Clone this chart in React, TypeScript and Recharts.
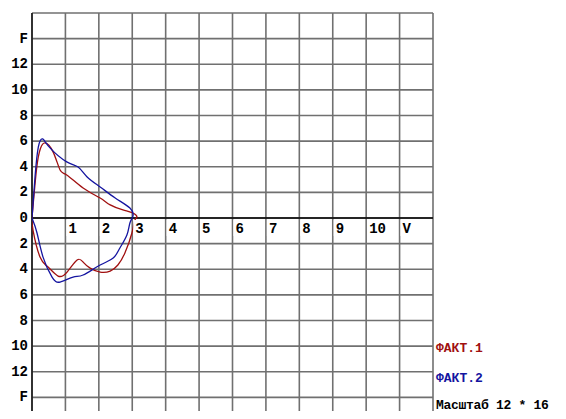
import React from 'react';
import { LineChart, Line, XAxis, YAxis, CartesianGrid, ReferenceLine, ReferenceDot } from 'recharts';

// ФАКТ.1 loop: upper branch to the tip, then lower branch back to the origin
const fact1X = [0, 0.14, 0.25, 0.39, 0.63, 0.84, 1.04, 1.53, 2.04, 2.34, 2.72, 3.02, 3.14, 3.08, 2.99, 2.78, 2.57, 2.34, 2.04, 1.74, 1.53, 1.35, 1.05, 0.78, 0.48, 0.24, 0.03, 0];
const fact1Y = [0, 3.9, 5.4, 5.86, 5.16, 3.75, 3.36, 2.34, 1.56, 1.02, 0.63, 0.39, 0.1, -0.16, -1.17, -2.73, -3.67, -4.14, -4.22, -3.91, -3.44, -3.28, -4.22, -4.53, -3.83, -3.05, -0.94, 0];

// ФАКТ.2 loop
const fact2X = [0, 0.09, 0.19, 0.32, 0.54, 1.04, 1.38, 1.65, 2.04, 2.49, 2.93, 3.02, 2.93, 2.84, 2.63, 2.43, 2.04, 1.53, 1.23, 0.84, 0.6, 0.33, 0.15, 0];
const fact2Y = [0, 3.2, 5.55, 6.17, 5.47, 4.38, 3.98, 3.2, 2.42, 1.56, 0.78, 0.15, -0.39, -1.33, -2.34, -3.13, -3.67, -4.45, -4.61, -5.0, -4.61, -3.05, -1.17, 0];

const xTicks = [0, 1, 2, 3, 4, 5, 6, 7, 8, 9, 10, 11, 12];
const xLabels = ['1', '2', '3', '4', '5', '6', '7', '8', '9', '10', 'V'];
const xLabelAt = [1, 2, 3, 4, 5, 6, 7, 8, 9, 10, 11];
const yTicks = [-16, -14, -12, -10, -8, -6, -4, -2, 0, 2, 4, 6, 8, 10, 12, 14, 16];
const yLabels: Record<number, string> = {
  14: 'F', 12: '12', 10: '10', 8: '8', 6: '6', 4: '4', 2: '2', 0: '0',
  [-2]: '2', [-4]: '4', [-6]: '6', [-8]: '8', [-10]: '10', [-12]: '12', [-14]: 'F',
};
const seriesNames = ['ФАКТ.1', 'ФАКТ.2'];
const seriesColors = ['#a01010', '#1414a0'];
const scaleText = 'Масштаб 12 * 16';

const FONT = '"Liberation Mono", "DejaVu Sans Mono", monospace';

const toPoints = (xs: number[], ys: number[]) => xs.map((x, i) => ({ x, y: ys[i] }));
const fact1 = toPoints(fact1X, fact1Y);
const fact2 = toPoints(fact2X, fact2Y);

const YTick = (props: any) => {
  const { x, y, payload } = props;
  const text = yLabels[payload.value];
  if (!text) return null;
  return (
    <text x={x + 4} y={y} dy={4} textAnchor="end" fontFamily={FONT} fontWeight="bold" fontSize={14} fill="#000">
      {text}
    </text>
  );
};

const makeXLabel = (text: string) => (props: any) => {
  const { cx, cy } = props;
  return (
    <g>
      <rect x={cx + 1} y={cy + 2} width={text.length * 8.4 + 3} height={16} fill="#fff" />
      <text x={cx + 3} y={cy + 15} fontFamily={FONT} fontWeight="bold" fontSize={14} fill="#000">
        {text}
      </text>
    </g>
  );
};

const App: React.FC = () => {
  return (
    <div style={{ position: 'relative', width: 566, height: 419, overflow: 'hidden', margin: -8, background: '#fff' }}>
      <LineChart width={566} height={424} margin={{ top: 13, right: 133, bottom: 1, left: 0 }}>
        <CartesianGrid stroke="#707070" strokeWidth={1.6} />
        <XAxis
          type="number"
          dataKey="x"
          domain={[0, 12]}
          ticks={xTicks}
          tick={() => <g />}
          axisLine={false}
          tickLine={false}
          height={0}
          interval={0}
          allowDataOverflow
        />
        <YAxis
          type="number"
          dataKey="y"
          domain={[-16, 16]}
          ticks={yTicks}
          tick={<YTick />}
          axisLine={false}
          tickLine={false}
          width={32}
          interval={0}
        />
        <ReferenceLine y={0} stroke="#000" strokeWidth={1.3} />
        <ReferenceLine x={0} stroke="#000" strokeWidth={1.3} />
        {xLabelAt.map((v, i) => (
          <ReferenceDot key={v} x={v} y={0} r={0} shape={makeXLabel(xLabels[i])} />
        ))}
        <Line data={fact1} dataKey="y" name={seriesNames[0]} type="natural" stroke={seriesColors[0]} strokeWidth={1.3} dot={false} isAnimationActive={false} />
        <Line data={fact2} dataKey="y" name={seriesNames[1]} type="natural" stroke={seriesColors[1]} strokeWidth={1.3} dot={false} isAnimationActive={false} />
      </LineChart>
      <div style={{ position: 'absolute', left: 436, top: 334, fontFamily: FONT, fontWeight: 'bold', fontSize: 13, lineHeight: '30px', whiteSpace: 'nowrap' }}>
        {seriesNames.map((n, i) => (
          <div key={n} style={{ color: seriesColors[i] }}>{n}</div>
        ))}
        <div style={{ color: '#000', letterSpacing: -0.3, marginTop: -3 }}>{scaleText}</div>
      </div>
    </div>
  );
};

export default App;
